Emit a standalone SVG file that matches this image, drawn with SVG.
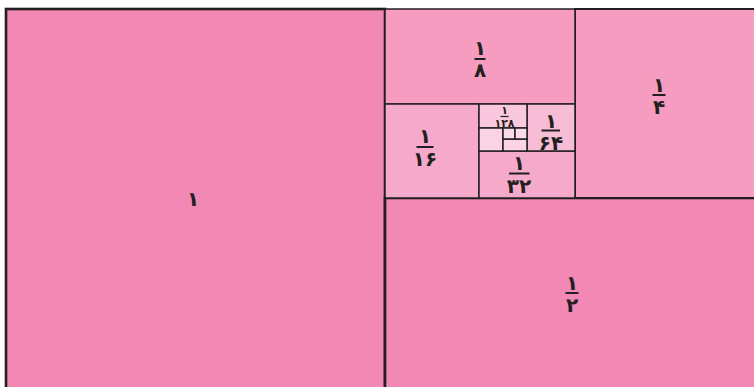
<svg xmlns="http://www.w3.org/2000/svg" width="754" height="387" viewBox="0 0 754 387">
<style>
.t{font-family:"DejaVu Sans",sans-serif;font-weight:bold;fill:#231f20;text-anchor:middle}
.f{font-size:20px}
.s{font-size:11px}
.bar{stroke:#231f20;stroke-width:2}
.thick{stroke:#231f20;stroke-width:2.6}
.med{stroke:#231f20;stroke-width:2}
.thin{stroke:#231f20;stroke-width:1.5}
</style>
<rect width="754" height="387" fill="#ffffff"/>
<g id="n1">
<rect x="6" y="9" width="379" height="380" fill="#f288b4" class="thick"/>
<text class="t f" x="193" y="206">۱</text>
</g>
<g id="n2">
<rect x="385" y="198" width="371" height="191" fill="#f288b4" class="thick"/>
<text class="t f" x="572" y="290">۱</text>
<line x1="565.5" y1="293" x2="578.5" y2="293" class="bar"/>
<text class="t f" x="572" y="312">۲</text>
</g>
<g id="n4">
<rect x="575" y="9" width="181" height="189" fill="#f59cc0" class="med"/>
<text class="t f" x="659" y="92">۱</text>
<line x1="652.5" y1="95" x2="665.5" y2="95" class="bar"/>
<text class="t f" x="659" y="114">۴</text>
</g>
<g id="n8">
<rect x="385" y="9" width="190" height="95" fill="#f59cc0" class="thin"/>
<text class="t f" x="480" y="55">۱</text>
<line x1="474.5" y1="59" x2="485.5" y2="59" class="bar"/>
<text class="t f" x="480" y="77">۸</text>
</g>
<g id="n16">
<rect x="385" y="104" width="94" height="94" fill="#f6aacb" class="thin"/>
<text class="t f" x="425" y="143">۱</text>
<line x1="416.5" y1="147" x2="433.5" y2="147" class="bar"/>
<text class="t f" x="425" y="166">۱۶</text>
</g>
<g id="n32">
<rect x="479" y="151" width="96" height="47" fill="#f6aacb" class="thin"/>
<text class="t f" x="519" y="170">۱</text>
<line x1="509" y1="173.5" x2="529.5" y2="173.5" class="bar"/>
<text class="t f" x="519" y="193">۳۲</text>
</g>
<g id="n64">
<rect x="527" y="104" width="48" height="47" fill="#f8bdd6" class="thin"/>
<text class="t f" x="551" y="128">۱</text>
<line x1="541.5" y1="130.5" x2="560" y2="130.5" class="bar"/>
<text class="t f" x="551" y="150">۶۴</text>
</g>
<g id="n128">
<rect x="479" y="104" width="48" height="24" fill="#f9c8de" class="thin"/>
<text class="t s" x="504.5" y="113.5">۱</text>
<line x1="500.5" y1="116.5" x2="508.5" y2="116.5" stroke="#231f20" stroke-width="1.2"/>
<text class="t s" x="504.5" y="126.5">۱۲۸</text>
</g>
<g id="n256">
<rect x="479" y="128" width="24" height="23" fill="#fad4e5" class="thin"/>
</g>
<g id="n512">
<rect x="503" y="139" width="24" height="12" fill="#fad4e5" class="thin"/>
</g>
<g id="n1024">
<rect x="503" y="128" width="12" height="11" fill="#fadbe9" class="thin"/>
</g>
<g id="n2048">
<rect x="515" y="128" width="12" height="11" fill="#fadbe9" class="thin"/>
</g>
<g id="connectors"></g>
</svg>
